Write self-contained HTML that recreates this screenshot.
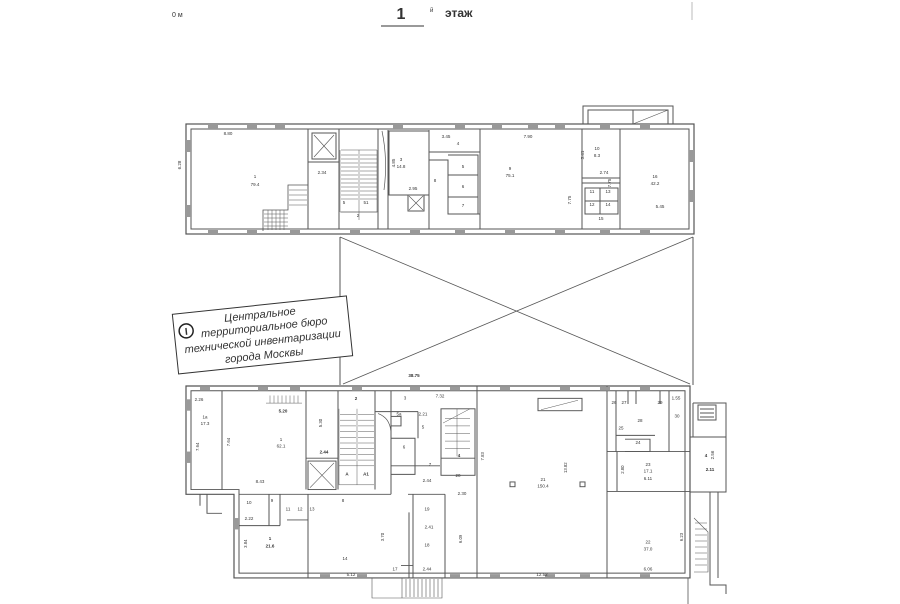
<!DOCTYPE html>
<html><head><meta charset="utf-8"><style>
html,body{margin:0;padding:0;background:#fff}
svg{display:block}
text{font-family:"Liberation Sans",sans-serif;fill:#333}
</style></head><body>
<svg width="900" height="604" viewBox="0 0 900 604" xmlns="http://www.w3.org/2000/svg">
<rect width="900" height="604" fill="#fff"/>
<!-- header -->
<text x="172" y="17" font-size="7" fill="#555">0 м</text>
<text x="401" y="19" font-size="16" font-weight="bold" text-anchor="middle" fill="#111">1</text>
<line x1="381" y1="26" x2="424" y2="26" stroke="#333" stroke-width="1"/>
<text x="430" y="12" font-size="6" fill="#666">й</text>
<text x="445" y="17" font-size="12" font-weight="bold" fill="#111">этаж</text>
<line x1="692" y1="2" x2="692" y2="20" stroke="#bbb"/>

<g fill="none" stroke="#555" stroke-width="1">
<!-- cross region -->
<line x1="340" y1="237" x2="340" y2="385"/>
<line x1="693" y1="237" x2="693" y2="385"/>
<line x1="340" y1="237" x2="690" y2="384" stroke-width="0.8"/>
<line x1="693" y1="237" x2="343" y2="384" stroke-width="0.8"/>
<line x1="688" y1="578" x2="688" y2="604" stroke-width="0.8"/>

<!-- TOP BUILDING -->
<rect x="186" y="124" width="508" height="110" stroke-width="1.2"/>
<rect x="191" y="129" width="498" height="100" stroke-width="1"/>
<path d="M583 124 V106 H673 V124 M588 124 V110 H668 V124 M633 110 V124"/>
<path d="M633 124 L668 110" stroke-width="0.6"/>
<path d="M308 129 V229 M339 129 V229 M378 129 V229 M388 130 V229"/>
<rect x="312" y="133" width="24" height="26"/>
<path d="M314 135 L334 157 M334 135 L314 157" stroke-width="0.6"/>
<path d="M308 162 H339"/>
<rect x="389" y="131" width="40" height="64"/>
<path d="M429 130 V229 M429 152 H480 M429 160 H448 V214 H480 M448 155 H478 V214 M448 175 H478 M448 197 H478 M480 129 V229"/>
<rect x="408" y="195" width="16" height="16"/>
<path d="M409 196 L423 210 M423 196 L409 210" stroke-width="0.6"/>
<path d="M582 129 V229 M620 129 V229 M582 178 H620 M582 183 H620 M585 188 H618 V214 H585 Z M600 188 V214 M585 201 H618"/>
<g stroke-width="0.5">
<path d="M340 150 V212 M359 150 V212 M341 150 H377 V212 H341"/>
<path d="M341 155H358M341 159H358M341 163H358M341 167H358M341 171H358M341 175H358M341 179H358M341 183H358M341 187H358M341 191H358M341 195H358M341 199H358"/>
<path d="M360 155H377M360 159H377M360 163H377M360 167H377M360 171H377M360 175H377M360 179H377M360 183H377M360 187H377M360 191H377M360 195H377M360 199H377"/>
<path d="M340 212 H378 M359 212 V220"/>
<path d="M263 231 V210 H288 V185 H308" stroke-width="0.8"/>
<path d="M264 214H288M264 218H288M264 222H288M264 226H288M268 210V230M272 210V230M276 210V230M280 210V230M284 210V230"/>
<path d="M289 190H307M289 195H307M289 200H307M289 205H307"/>
</g>
<path d="M382 131 Q388 160 384 190" stroke-width="0.7"/>
</g>

<g fill="#999">
<rect x="208" y="125" width="10" height="4"/><rect x="247" y="125" width="10" height="4"/><rect x="275" y="125" width="10" height="4"/><rect x="393" y="125" width="10" height="4"/><rect x="455" y="125" width="10" height="4"/><rect x="492" y="125" width="10" height="4"/><rect x="528" y="125" width="10" height="4"/><rect x="555" y="125" width="10" height="4"/><rect x="600" y="125" width="10" height="4"/><rect x="640" y="125" width="10" height="4"/>
<rect x="208" y="230" width="10" height="4"/><rect x="247" y="230" width="10" height="4"/><rect x="290" y="230" width="10" height="4"/><rect x="350" y="230" width="10" height="4"/><rect x="410" y="230" width="10" height="4"/><rect x="455" y="230" width="10" height="4"/><rect x="505" y="230" width="10" height="4"/><rect x="555" y="230" width="10" height="4"/><rect x="600" y="230" width="10" height="4"/><rect x="640" y="230" width="10" height="4"/>
<rect x="187" y="140" width="4" height="12"/><rect x="187" y="205" width="4" height="12"/><rect x="689" y="150" width="4" height="12"/><rect x="689" y="190" width="4" height="12"/>
</g>

<g font-size="4.5" text-anchor="middle">
<text x="228" y="135">8.80</text><text x="181" y="165" transform="rotate(-90 181 165)">6.28</text>
<text x="255" y="178">1</text><text x="255" y="186">79.4</text>
<text x="322" y="174">2.34</text><text x="401" y="161">3</text><text x="401" y="168">14.8</text>
<text x="395" y="163" transform="rotate(-90 395 163)">4.85</text><text x="413" y="190">2.95</text>
<text x="446" y="138">3.45</text><text x="458" y="145">4</text><text x="463" y="168">5</text><text x="463" y="188">6</text><text x="463" y="207">7</text><text x="435" y="182">8</text>
<text x="344" y="204">5</text><text x="366" y="204">51</text><text x="358" y="217">2</text>
<text x="528" y="138">7.90</text><text x="510" y="170">9</text><text x="510" y="177">75.1</text>
<text x="597" y="150">10</text><text x="597" y="157">8.3</text><text x="584" y="155" transform="rotate(-90 584 155)">3.41</text><text x="604" y="174">2.74</text>
<text x="592" y="193">11</text><text x="608" y="193">13</text><text x="592" y="206">12</text><text x="608" y="206">14</text><text x="601" y="220">15</text>
<text x="571" y="200" transform="rotate(-90 571 200)">7.75</text><text x="611" y="183" transform="rotate(-90 611 183)">7.75</text>
<text x="655" y="178">16</text><text x="655" y="185">42.2</text><text x="660" y="208">5.45</text>
<text x="414" y="377" font-weight="bold">38.75</text>
</g>

<!-- BOTTOM BUILDING (scaled) -->
<g transform="translate(0,386) scale(1,0.95) translate(0,-386)">
<g fill="none" stroke="#555" stroke-width="1">
<path d="M186 386 H690 V588 H234 V500 H186 Z" stroke-width="1.2"/>
<path d="M191 391 H685 V583 H239 V495 H191 Z"/>
<path d="M222 391 V495 M306 391 V495 M338 391 V495 M375 391 V495 M391 391 V500 M239 500 H391"/>
<rect x="308" y="465" width="28" height="30"/>
<path d="M310 467 L334 493 M334 467 L310 493" stroke-width="0.6"/>
<path d="M306 462 H338"/>
<g stroke-width="0.5">
<path d="M339 410 V490 M357 410 V490 M339 470 H374 M339 490 H374"/>
<path d="M340 416H356M340 422H356M340 428H356M340 434H356M340 440H356M340 446H356M340 452H356M340 458H356M340 464H356"/>
<path d="M358 416H374M358 422H374M358 428H374M358 434H374M358 440H374M358 446H374M358 452H374M358 458H374M358 464H374"/>
<path d="M266 404 H302 M270 396V404M274 396V404M278 396V404M282 396V404M286 396V404M290 396V404M294 396V404M298 396V404"/>
</g>
<path d="M378 415 Q392 420 391 440" stroke-width="0.7"/>
<path d="M375 413 H418 M391 441 H415 V479 H391 M418 413 V441 M391 470 H440"/>
<rect x="391" y="418" width="10" height="10"/>
<rect x="441" y="410" width="34" height="70"/>
<path d="M441 462 H475"/>
<g stroke-width="0.5"><path d="M443 425 L470 410 M445 420H470M445 428H470M445 436H470M445 444H470M445 452H470M457 410V460"/></g>
<path d="M477 386 V588 M413 500 V588 M445 500 V588 M408 500 H445 M401 575 H413 M409 519 V588"/>
<path d="M607 386 V588 M607 455 H690 M607 497 H690 M617 455 V497"/>
<path d="M616 391 V438 H655 M616 438 V455 M628 391 V405 M636 391 V405 M660 391 V405 M669 391 V455 M625 442 H650 V455 H625"/>
<path d="M239 533 H280 M269 500 V533 M280 500 V533 M287 527 H308 M308 500 V588"/>
<rect x="538" y="399" width="44" height="13"/>
<path d="M541 411 L578 401" stroke-width="0.5"/>
<rect x="510" y="487" width="5" height="5"/>
<rect x="580" y="487" width="5" height="5"/>
<path d="M207 500 V520 H222 M200 500 V512"/>
</g>
<g fill="#999">
<rect x="200" y="387" width="10" height="4"/><rect x="258" y="387" width="10" height="4"/><rect x="290" y="387" width="10" height="4"/><rect x="352" y="387" width="10" height="4"/><rect x="410" y="387" width="10" height="4"/><rect x="450" y="387" width="10" height="4"/><rect x="500" y="387" width="10" height="4"/><rect x="560" y="387" width="10" height="4"/><rect x="600" y="387" width="10" height="4"/><rect x="640" y="387" width="10" height="4"/>
<rect x="320" y="584" width="10" height="4"/><rect x="357" y="584" width="10" height="4"/><rect x="450" y="584" width="10" height="4"/><rect x="490" y="584" width="10" height="4"/><rect x="545" y="584" width="10" height="4"/><rect x="580" y="584" width="10" height="4"/><rect x="640" y="584" width="10" height="4"/>
<rect x="187" y="400" width="4" height="12"/><rect x="187" y="455" width="4" height="12"/><rect x="235" y="525" width="4" height="12"/>
</g>
<g font-size="4.5" text-anchor="middle">
<text x="199" y="402">2.26</text><text x="205" y="420">1a</text><text x="205" y="427">17.3</text>
<text x="199" y="450" transform="rotate(-90 199 450)">7.64</text><text x="230" y="445" transform="rotate(-90 230 445)">7.64</text>
<text x="283" y="414" font-weight="bold">5.20</text><text x="281" y="444">1</text><text x="281" y="451">62.1</text><text x="260" y="488">8.43</text>
<text x="322" y="425" transform="rotate(-90 322 425)">5.30</text><text x="324" y="457" font-weight="bold">2.44</text>
<text x="356" y="401" font-weight="bold">2</text><text x="347" y="480" font-weight="bold">A</text><text x="366" y="480" font-weight="bold">A1</text>
<text x="405" y="400">3</text><text x="440" y="398">7.32</text><text x="399" y="417">5a</text><text x="423" y="417">2.21</text><text x="423" y="431">5</text><text x="404" y="452">6</text><text x="430" y="470">7</text><text x="459" y="461" font-weight="bold">4</text><text x="458" y="482">20</text>
<text x="484" y="460" transform="rotate(-90 484 460)">7.83</text><text x="427" y="487">2.44</text><text x="462" y="501">2.30</text>
<text x="543" y="486">21</text><text x="543" y="493">150.4</text><text x="567" y="472" transform="rotate(-90 567 472)">13.82</text><text x="542" y="586">12.52</text>
<text x="614" y="405">26</text><text x="624" y="405">27</text><text x="640" y="424">28</text><text x="660" y="405">29</text><text x="676" y="400">1.55</text><text x="677" y="419">30</text><text x="621" y="432">25</text><text x="638" y="447">24</text>
<text x="648" y="470">23</text><text x="648" y="477">17.1</text><text x="648" y="485">6.11</text><text x="624" y="474" transform="rotate(-90 624 474)">2.80</text>
<text x="648" y="552">22</text><text x="648" y="559">37.0</text><text x="648" y="580">6.06</text><text x="683" y="545" transform="rotate(-90 683 545)">6.23</text>
<text x="249" y="510">10</text><text x="272" y="508">9</text><text x="288" y="517">11</text><text x="300" y="517">12</text><text x="312" y="517">13</text><text x="249" y="527">2.22</text>
<text x="343" y="508">8</text><text x="270" y="548" font-weight="bold">1</text><text x="270" y="556" font-weight="bold">21.6</text><text x="247" y="552" transform="rotate(-90 247 552)">3.84</text>
<text x="345" y="569">14</text><text x="351" y="586">5.12</text><text x="395" y="580">17</text><text x="384" y="545" transform="rotate(-90 384 545)">3.70</text>
<text x="427" y="517">19</text><text x="429" y="536">2.41</text><text x="427" y="555">18</text><text x="427" y="580">2.44</text>
<text x="462" y="547" transform="rotate(-90 462 547)">6.09</text>
</g>
</g>

<!-- right annex & steps (unscaled) -->
<g fill="none" stroke="#555" stroke-width="1">
<path d="M690 437 H726 V492 H690 M693 403 H726 V437 M693 403 V437 M698 405 H716 V420 H698 Z M700 409H714M700 413H714M700 417H714"/>
<path d="M710 492 V585 H726 V594 M718 492 V578"/>
<path d="M694 518 L708 532 V572 H694" stroke-width="0.6"/>
<path d="M695 523H707M695 529H707M695 535H707M695 541H707M695 547H707M695 553H707M695 559H707M695 565H707" stroke-width="0.5"/>
<path d="M372 578 V598 H442 V578 M402 578 V598 M406 579V597M410 579V597M414 579V597M418 579V597M422 579V597M426 579V597M430 579V597M434 579V597M438 579V597" stroke-width="0.6"/>
</g>
<g font-size="4.5" text-anchor="middle">
<text x="706" y="457" font-weight="bold">4</text><text x="714" y="455" transform="rotate(-90 714 455)">2.56</text><text x="710" y="471" font-weight="bold">2.11</text>
</g>

<!-- stamp -->
<g transform="rotate(-6 262 335)">
<rect x="175" y="305" width="175" height="60" fill="#fff" stroke="#333" stroke-width="1"/>
<circle cx="187" cy="323" r="7" fill="none" stroke="#222" stroke-width="1.5"/>
<text x="187" y="327" font-size="10" font-weight="bold" text-anchor="middle" fill="#222">I</text>
<g font-size="11" font-style="italic" text-anchor="middle">
<text x="262" y="318" fill="#222">Центральное</text>
<text x="265" y="331" fill="#222">территориальное бюро</text>
<text x="262" y="345" fill="#222">технической инвентаризации</text>
<text x="262" y="359" fill="#222">города Москвы</text>
</g>
</g>
</svg>
</body></html>
